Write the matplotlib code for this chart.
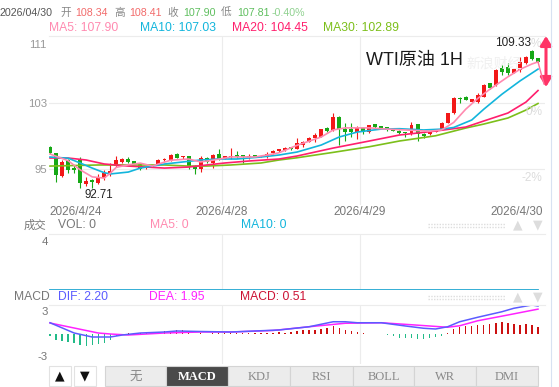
import numpy as np
import matplotlib
matplotlib.use('Agg')
import matplotlib.pyplot as plt
import matplotlib.transforms as mtransforms
from matplotlib.patches import Rectangle, FancyArrowPatch
from matplotlib.lines import Line2D

plt.rcParams['font.family'] = ['Liberation Sans', 'Noto Sans CJK SC']

W, H = 559, 387

# hourly candles, 2026/4/24 .. 2026/4/30
opens = [97.68, 96.88, 94.15, 96.08, 95.08, 96.08, 93.19, 93.63, 93.34, 93.87,
         94.39, 95.35, 95.84, 96.23, 95.99, 95.60, 95.11, 95.29, 95.60, 96.08,
         95.99, 96.80, 96.40, 96.56, 95.39, 94.99, 96.35, 95.68, 96.76, 96.20,
         96.40, 96.64, 96.64, 96.40, 96.64, 96.48, 96.56, 96.88, 97.16, 97.28,
         97.61, 97.40, 97.88, 98.28, 98.76, 98.88, 99.90, 99.69, 101.29, 99.78,
         99.78, 99.41, 99.90, 99.41, 100.38, 100.17, 100.02, 99.81, 99.57, 99.41,
         99.17, 100.38, 99.17, 99.17, 99.49, 99.78, 100.57, 101.70, 103.58, 103.70,
         103.10, 103.10, 103.70, 105.32, 105.11, 107.13, 107.32, 106.60, 106.92, 107.73,
         109.25, 108.34]
highs = [97.75, 96.96, 96.08, 96.15, 95.47, 96.40, 94.06, 93.79, 94.39, 94.87,
         95.68, 96.56, 96.32, 96.44, 95.99, 95.72, 95.30, 95.45, 96.20, 96.32,
         96.75, 96.92, 96.62, 96.62, 95.45, 96.56, 96.45, 96.75, 97.37, 96.60,
         97.56, 97.16, 96.70, 96.76, 96.70, 96.60, 97.00, 97.28, 97.45, 97.62,
         97.68, 98.76, 98.40, 98.82, 99.29, 99.85, 100.05, 101.70, 101.35, 100.50,
         100.50, 100.21, 100.09, 100.35, 100.40, 100.22, 100.08, 99.88, 99.69, 99.49,
         100.62, 100.45, 99.29, 99.47, 99.85, 100.65, 101.78, 103.65, 103.62, 103.75,
         103.45, 104.11, 105.18, 105.40, 107.00, 107.52, 107.73, 107.08, 108.52, 108.60,
         109.33, 108.41]
lows = [96.80, 93.46, 93.99, 94.47, 94.47, 92.71, 92.94, 92.75, 93.19, 93.67,
        94.21, 95.23, 95.72, 95.72, 95.55, 94.87, 95.05, 95.25, 95.47, 96.00,
        95.95, 96.32, 96.20, 94.99, 94.39, 94.67, 95.75, 95.15, 96.10, 96.15,
        96.20, 96.28, 95.68, 96.20, 96.40, 96.44, 96.28, 96.80, 97.10, 97.20,
        97.30, 97.35, 97.68, 98.22, 98.28, 98.82, 99.41, 99.62, 97.88, 98.37,
        98.88, 98.61, 99.17, 99.35, 99.90, 99.88, 99.62, 99.55, 99.25, 98.88,
        99.09, 98.37, 98.76, 99.10, 99.42, 99.70, 100.50, 101.62, 103.00, 103.25,
        103.05, 102.91, 103.62, 104.65, 105.05, 106.32, 106.32, 106.52, 106.72, 107.65,
        108.15, 107.81]
closes = [96.88, 94.27, 95.87, 94.87, 94.87, 93.31, 93.58, 93.39, 94.06, 94.47,
          94.75, 96.08, 96.16, 95.84, 95.60, 95.03, 95.23, 95.41, 96.08, 96.26,
          96.68, 96.35, 96.56, 95.35, 94.99, 96.35, 95.80, 96.68, 96.20, 96.52,
          96.56, 96.44, 96.44, 96.56, 96.47, 96.56, 96.80, 97.16, 97.37, 97.56,
          97.37, 98.09, 98.28, 98.76, 99.09, 99.78, 99.57, 101.29, 99.81, 99.49,
          99.49, 99.97, 99.49, 100.29, 100.09, 99.93, 99.69, 99.61, 99.37, 99.33,
          100.29, 99.17, 99.00, 99.41, 99.78, 100.57, 101.70, 103.58, 103.39, 103.31,
          103.39, 103.91, 105.11, 104.72, 106.92, 106.72, 106.60, 107.00, 107.92, 108.52,
          108.21, 107.90]
change_pct = -0.40

# moving averages (candle index, value)
ma5_idx = [0, 3, 5, 7, 9, 10, 11, 13, 15, 17, 18, 20, 23, 25, 27, 30, 34, 37, 38, 41,
           45, 47, 49, 53, 56, 59, 63, 65, 67, 69, 71, 73, 76, 78, 80, 81]
ma5 = [96.8, 96.0, 94.9, 94.05, 93.9, 94.5, 95.2, 95.5, 95.7, 95.35, 95.6, 96.05, 96.2,
       95.85, 96.05, 96.45, 96.45, 96.8, 96.95, 97.85, 98.85, 99.7, 99.95, 99.95, 99.8,
       99.7, 99.55, 99.7, 100.6, 102.2, 103.5, 104.6, 106.1, 107.0, 107.65, 107.9]
ma10_idx = [0, 3, 5, 7, 9, 10, 13, 15, 17, 19, 22, 25, 28, 31, 35, 38, 41, 45, 48, 51,
            55, 58, 62, 65, 67, 70, 72, 75, 78, 81]
ma10 = [96.44, 96.3, 95.72, 95.11, 94.55, 94.4, 94.63, 95.11, 95.35, 95.6, 95.84, 96.08,
        96.2, 96.2, 96.44, 96.68, 97.04, 97.88, 98.85, 99.45, 99.81, 99.85, 99.7, 99.8,
        100.0, 100.9, 102.2, 104.0, 105.6, 107.03]
ma20_idx = [0, 3, 6, 9, 13, 16, 19, 23, 26, 29, 33, 38, 41, 47, 53, 58, 64, 69, 72, 76, 79, 81]
ma20 = [96.32, 96.32, 96.08, 95.6, 95.35, 95.23, 95.11, 95.23, 95.48, 95.72, 95.96, 96.2,
        96.56, 97.52, 98.37, 99.09, 99.57, 100.05, 100.78, 101.74, 103.06, 104.45]
ma30_idx = [0, 8, 14, 19, 23, 26, 30, 35, 38, 41, 47, 53, 58, 64, 69, 72, 76, 79, 81]
ma30 = [95.35, 95.48, 95.48, 95.48, 95.35, 95.35, 95.48, 95.72, 96.08, 96.35, 97.0, 97.68,
        98.37, 99.0, 99.93, 100.41, 101.14, 102.1, 102.89]

# MACD
dif_idx = [0, 4, 7, 10, 12, 15, 19, 21, 25, 30, 38, 43, 47, 49, 51, 55, 59, 62, 64, 66,
           68, 71, 75, 77, 80, 81]
dif = [0.86, 0.04, -0.28, -0.28, -0.12, 0.04, 0.12, 0.2, 0.16, 0.12, 0.28, 0.54, 0.94,
       0.94, 0.86, 0.86, 0.6, 0.42, 0.36, 0.54, 0.94, 1.30, 1.74, 2.02, 2.28, 2.20]
dea_idx = [0, 4, 8, 10, 13, 19, 25, 30, 37, 43, 49, 55, 60, 66, 68, 71, 76, 81]
dea = [0.84, 0.44, 0.04, -0.04, -0.12, 0.04, 0.12, 0.12, 0.24, 0.54, 0.82, 0.86, 0.7,
       0.5, 0.62, 1.02, 1.48, 1.95]
macd_hist = [-0.18, -0.53, -0.61, -0.67, -0.72, -0.88, -0.99, -0.93, -0.80, -0.72,
             -0.53, -0.19, 0.0, 0.02, 0.05, 0.03, 0.04, 0.06, 0.12, 0.18,
             0.24, 0.30, 0.26, 0.16, -0.04, 0.02, -0.04, 0.02, 0.04, 0.06,
             0.08, 0.06, 0.05, 0.08, 0.06, 0.05, 0.06, 0.08, 0.10, 0.08,
             0.14, 0.18, 0.26, 0.32, 0.32, 0.40, 0.46, 0.62, 0.46, 0.26,
             0.18, 0.14, 0.02, 0.0, -0.02, -0.04, -0.08, -0.18, -0.32, -0.32,
             -0.32, -0.40, -0.40, -0.34, -0.26, -0.18, 0.05, 0.40, 0.54, 0.58,
             0.58, 0.66, 0.72, 0.80, 0.88, 0.94, 0.86, 0.80, 0.72, 0.74,
             0.66, 0.51]

date_labels = ['2026/4/24', '2026/4/28', '2026/4/29', '2026/4/30']
day_breaks = [28.5, 51.5]

RED = '#f21818'
GREEN = '#16a816'
C_MA5, C_MA10, C_MA20, C_MA30 = '#ff8ab0', '#12b5dc', '#ff1f6d', '#7cbf1a'
GRID = '#ececec'


def fx(x):
    return x / W


def fy(y):
    return 1 - y / H


fig = plt.figure(figsize=(W / 100, H / 100), dpi=100)

# ---- header ----
red_v, green_v, green_l = '#f26b6b', '#5fbf5f', '#8fd18f'
row1 = [('2026/04/30', 0, '#555555'), ('开', 60, '#888888'), (f'{opens[-1]:.2f}', 75, red_v),
        ('高', 114, '#888888'), (f'{highs[-1]:.2f}', 129, red_v), ('收', 167, '#888888'),
        (f'{closes[-1]:.2f}', 183, green_v), ('低', 221, '#888888'),
        (f'{lows[-1]:.2f}', 237, green_v), (f'{change_pct:.2f}%', 272, green_l)]
for s, x0, col in row1:
    fig.text(fx(x0), fy(13), s, color=col, fontsize=7.7, ha='left', va='center')

row2 = [(f'MA5: {ma5[-1]:.2f}', 49, C_MA5), (f'MA10: {ma10[-1]:.2f}', 140, C_MA10),
        (f'MA20: {ma20[-1]:.2f}', 232, C_MA20), (f'MA30: {ma30[-1]:.2f}', 323, C_MA30)]
for s, x0, col in row2:
    fig.text(fx(x0), fy(28), s, color=col, fontsize=8.7, ha='left', va='center')

# ---- price panel ----
ax = fig.add_axes([fx(49), fy(205), 496 / W, 169 / H])
x = np.arange(len(closes))
o = np.array(opens)
c = np.array(closes)
cols = np.where(c >= o, RED, GREEN)
ax.axhline(95, color=GRID, lw=0.8, zorder=0)
ax.axhline(103, color=GRID, lw=0.8, zorder=0)
for b in day_breaks:
    ax.axvline(b, color=GRID, lw=0.8, zorder=0)
ax.vlines(x, lows, highs, colors=cols, lw=0.8, zorder=2)
ax.bar(x, np.maximum(np.abs(c - o), 0.07), bottom=np.minimum(o, c), width=0.66,
       color=cols, lw=0, zorder=2)
ax.plot(ma30_idx, ma30, color=C_MA30, lw=1.2, zorder=3)
ax.plot(ma20_idx, ma20, color=C_MA20, lw=1.2, zorder=3)
ax.plot(ma10_idx, ma10, color=C_MA10, lw=1.2, zorder=3)
ax.plot(ma5_idx, ma5, color=C_MA5, lw=1.2, zorder=3)
ax.set_xlim(-0.17, 82.16)
ax.set_ylim(90.66, 111.02)
ax.set_yticks([95, 103, 111])
ax.set_yticklabels(['95', '103', '111'])
ax.tick_params(axis='y', length=0, pad=1.5, labelsize=8.2, labelcolor='#999999')
ax.set_xticks([])
top_lbl = ax.get_yticklabels()[-1]
top_lbl.set_transform(top_lbl.get_transform()
                      + mtransforms.ScaledTranslation(0, -0.08, fig.dpi_scale_trans))
for side in ['left', 'right', 'bottom']:
    ax.spines[side].set_visible(False)
ax.spines['top'].set_color(GRID)
ax.spines['top'].set_linewidth(0.8)

imax = int(np.argmax(highs))
imin = int(np.argmin(lows))
fig.text(fx(513), fy(43), f'{highs[imax]:.2f}', fontsize=8.5, color='#222222', ha='center', va='center')
fig.text(fx(99), fy(195), f'{lows[imin]:.2f}', fontsize=8.3, color='#222222', ha='center', va='center')
fig.text(fx(414), fy(60), 'WTI原油 1H', fontsize=13, color='#1a1a1a', ha='center', va='center')
fig.text(fx(466), fy(64), '新浪财经', fontsize=10, color='#f0f0f0', ha='left', va='center', zorder=0)
for s, xx, yy in [('%', 541, 44), ('0%', 542, 112), ('-2%', 542, 178)]:
    fig.text(fx(xx), fy(yy), s, fontsize=8.5, color='#dcdcdc', ha='right', va='center', zorder=0)

# date labels
fig.text(fx(49), fy(212), date_labels[0], fontsize=8.5, color='#777777', ha='left', va='center')
fig.text(fx(221.5), fy(212), date_labels[1], fontsize=8.5, color='#777777', ha='center', va='center')
fig.text(fx(360), fy(212), date_labels[2], fontsize=8.5, color='#777777', ha='center', va='center')
fig.text(fx(543), fy(212), date_labels[3], fontsize=8.5, color='#777777', ha='right', va='center')

# drawn arrow on the right edge
fig.add_artist(Line2D([fx(538), fx(544)], [fy(62), fy(84)], color='#ff6f9a', lw=1.0))
fig.add_artist(FancyArrowPatch(
    (fx(546), fy(87)), (fx(546), fy(36)), transform=fig.transFigure,
    arrowstyle='<|-|>,head_length=0.55,head_width=0.34', color='#ff3366', lw=2.2,
    mutation_scale=10, shrinkA=0, shrinkB=0))
fig.add_artist(Line2D([fx(551), fx(551)], [fy(0), fy(387)], color='#d8e2f2', lw=0.8))

# ---- volume panel ----
axv = fig.add_axes([fx(49), fy(290), 496 / W, 56 / H])
axv.plot(x, np.zeros(len(x)), color=C_MA5, lw=1.2)
axv.plot(x, np.zeros(len(x)), color=C_MA10, lw=1.2)
for b in day_breaks:
    axv.axvline(b, color=GRID, lw=0.8, zorder=0)
axv.set_xlim(-0.17, 82.16)
axv.set_ylim(-0.03, 4)
axv.set_xticks([])
axv.set_yticks([])
for side in ['left', 'right', 'bottom']:
    axv.spines[side].set_visible(False)
axv.spines['top'].set_color(GRID)
axv.spines['top'].set_linewidth(0.8)
fig.text(fx(48), fy(242), '4', fontsize=8.2, color='#777777', ha='right', va='center')
fig.text(fx(24), fy(225), '成交', fontsize=8.2, color='#777777', ha='left', va='center')
fig.text(fx(58), fy(225), 'VOL: 0', fontsize=8.7, color='#777777', ha='left', va='center')
fig.text(fx(150), fy(225), 'MA5: 0', fontsize=8.7, color=C_MA5, ha='left', va='center')
fig.text(fx(241), fy(225), 'MA10: 0', fontsize=8.7, color=C_MA10, ha='left', va='center')

# ---- MACD panel ----
axm = fig.add_axes([fx(49), fy(364), 496 / W, 59 / H])
hist = np.array(macd_hist)
axm.bar(x, hist, width=0.22, color=np.where(hist >= 0, '#cc1111', '#22bb88'), lw=0)
axm.plot(dea_idx, dea, color='#ff22ff', lw=1.1)
axm.plot(dif_idx, dif, color='#5b5bff', lw=1.1)
for b in day_breaks:
    axm.axvline(b, color=GRID, lw=0.8, zorder=0)
axm.set_xlim(-0.17, 82.16)
axm.set_ylim(-2.44, 2.28)
axm.set_xticks([])
axm.set_yticks([])
for side in ['left', 'right', 'bottom']:
    axm.spines[side].set_visible(False)
axm.spines['top'].set_color(GRID)
axm.spines['top'].set_linewidth(0.8)
fig.text(fx(48), fy(312), '3', fontsize=8.2, color='#777777', ha='right', va='center')
fig.text(fx(48), fy(357), '-3', fontsize=8.2, color='#777777', ha='right', va='center')
fig.text(fx(14), fy(297), 'MACD', fontsize=8.7, color='#777777', ha='left', va='center')
fig.text(fx(58), fy(297), f'DIF: {dif[-1]:.2f}', fontsize=8.7, color='#5b5bff', ha='left', va='center')
fig.text(fx(149), fy(297), f'DEA: {dea[-1]:.2f}', fontsize=8.7, color='#ff22ff', ha='left', va='center')
fig.text(fx(240), fy(297), f'MACD: {macd_hist[-1]:.2f}', fontsize=8.7, color='#cc1133', ha='left', va='center')

# header dots and arrows of both sub panels
for yy in (225, 297):
    for dy in (-1.5, 1.5):
        fig.add_artist(Line2D([fx(428), fx(505)], [fy(yy + dy), fy(yy + dy)], color='#dddddd',
                              lw=1.0, ls=(0, (1, 1))))
    fig.text(fx(518), fy(yy), '▲', fontsize=9, color='#dddddd', ha='center', va='center',
             family=['DejaVu Sans'])
    fig.text(fx(538), fy(yy), '▼', fontsize=9, color='#dddddd', ha='center', va='center',
             family=['DejaVu Sans'])

# ---- bottom tabs ----
axt = fig.add_axes([0, 0, 1, 22 / H])
axt.set_xlim(0, W)
axt.set_ylim(387, 365)
axt.axis('off')
for x0, s in [(49, '▲'), (74, '▼')]:
    axt.add_patch(Rectangle((x0, 366), 22, 20, facecolor='white', edgecolor='#e2e2e2', lw=0.8))
    axt.text(x0 + 11, 376, s, fontsize=9, color='#111111', ha='center', va='center',
             family=['DejaVu Sans'])
tabs = ['无', 'MACD', 'KDJ', 'RSI', 'BOLL', 'WR', 'DMI']
edges = [105, 166, 228, 290, 353, 414, 476, 538]
for k, s in enumerate(tabs):
    active = s == 'MACD'
    axt.add_patch(Rectangle((edges[k], 366), edges[k + 1] - edges[k], 20,
                            facecolor='#4a4a4a' if active else '#ececec',
                            edgecolor='#d4d4d4', lw=0.8))
    axt.text((edges[k] + edges[k + 1]) / 2, 376.5, s, fontsize=9,
             color='white' if active else '#888888', fontweight='bold' if active else 'normal',
             ha='center', va='center', family=['Liberation Serif', 'Noto Sans CJK SC'])

fig.savefig('out.png', dpi=100)
